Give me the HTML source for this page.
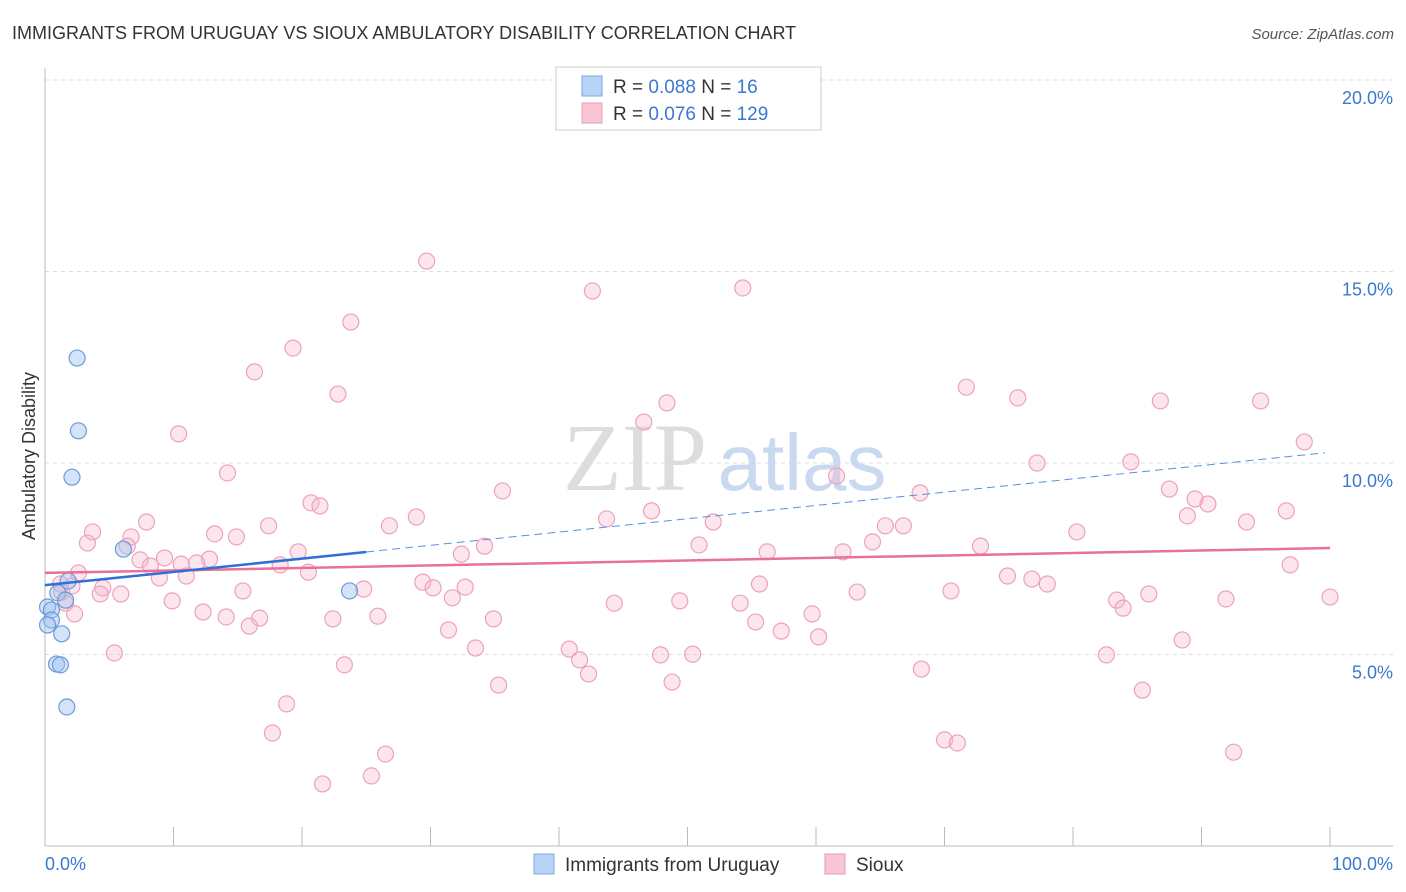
<!DOCTYPE html>
<html><head><meta charset="utf-8"><style>
body{margin:0;background:#fff;font-family:"Liberation Sans",sans-serif;}
svg{display:block}
</style></head><body>
<svg width="1406" height="892" xmlns="http://www.w3.org/2000/svg">
<text x="12" y="39" font-size="18" fill="#333">IMMIGRANTS FROM URUGUAY VS SIOUX AMBULATORY DISABILITY CORRELATION CHART</text>
<text x="1394" y="39" font-size="15" fill="#555" text-anchor="end" font-style="italic">Source: ZipAtlas.com</text>
<g id="grid"></g>
<g>
<text x="635" y="490" font-size="96" fill="#ddd" text-anchor="middle" font-family="Liberation Serif,serif">ZIP</text>
<text x="802" y="490" font-size="80" fill="#c9daf0" text-anchor="middle">atlas</text>
</g>
<text transform="translate(35,456) rotate(-90)" font-size="18" fill="#333" text-anchor="middle">Ambulatory Disability</text>
<g id="points"></g>
<g id="trends"></g>
<g>
<rect x="556" y="67" width="265" height="63" fill="#fff" stroke="#ccc"/>
<rect x="582" y="76" width="20" height="20" fill="#b9d3f5" stroke="#7aa6e0"/>
<rect x="582" y="103" width="20" height="20" fill="#f9c6d6" stroke="#eb9ab6"/>
<text x="613" y="93" font-size="19" fill="#333">R = <tspan fill="#3b78d0">0.088</tspan>   N = <tspan fill="#3b78d0">  16</tspan></text>
<text x="613" y="120" font-size="19" fill="#333">R = <tspan fill="#3b78d0">0.076</tspan>   N = <tspan fill="#3b78d0">129</tspan></text>
</g>
<g>
<rect x="534" y="854" width="20" height="20" fill="#b9d3f5" stroke="#7aa6e0"/>
<text x="565" y="871" font-size="19" fill="#333">Immigrants from Uruguay</text>
<rect x="825" y="854" width="20" height="20" fill="#f9c6d6" stroke="#eb9ab6"/>
<text x="856" y="871" font-size="19" fill="#333">Sioux</text>
</g>
<text x="45" y="870" font-size="18" fill="#3b78d0">0.0%</text>
<text x="1393" y="870" font-size="18" fill="#3b78d0" text-anchor="end">100.0%</text>
</svg>
<script>
const yTicks=[5,10,15,20];
const yTickLabels=["5.0%","10.0%","15.0%","20.0%"];
const xTicks=[0,10,20,30,40,50,60,70,80,90,100];
const blueX=[2.5,2.6,2.1,6.1,1.8,1.0,0.2,0.5,0.5,0.2,1.3,0.9,1.2,1.7,23.7,1.6];
const blueY=[12.74,10.84,9.63,7.75,6.92,6.61,6.24,6.16,5.9,5.77,5.54,4.75,4.73,3.63,6.66,6.42];
const pinkX=[29.7,42.6,54.3,23.8,19.3,16.3,22.8,71.7,75.7,86.8,94.6,48.4,46.6,10.4,98.0,77.2,84.5,14.2,61.6,35.6,68.1,87.5,89.5,90.5,20.7,21.4,88.9,96.6,47.2,28.9,7.9,43.7,52.0,93.5,26.8,17.4,65.4,66.8,3.7,6.7,13.2,14.9,80.3,3.3,6.4,50.9,34.2,19.7,32.4,72.8,56.2,62.1,64.4,7.4,9.3,10.6,12.8,11.8,8.2,2.6,11.0,8.9,20.5,18.3,96.9,74.9,76.8,78.0,29.4,30.2,32.7,55.6,24.8,1.2,1.3,2.1,4.5,4.3,5.9,15.4,31.7,63.2,70.5,85.9,83.4,83.9,91.9,100,9.9,1.6,2.3,44.3,49.4,54.1,12.3,14.1,16.7,25.9,34.9,22.4,59.7,15.9,31.4,55.3,57.3,60.2,88.5,5.4,33.5,40.8,41.6,47.9,50.4,82.6,23.3,42.3,68.2,35.3,48.8,85.4,18.8,17.7,70.0,71.0,92.5,26.5,25.4,21.6];
const pinkY=[15.27,14.49,14.57,13.68,13.0,12.38,11.8,11.98,11.7,11.62,11.62,11.57,11.07,10.76,10.55,10.0,10.03,9.74,9.66,9.27,9.22,9.32,9.06,8.93,8.96,8.88,8.62,8.75,8.75,8.59,8.46,8.54,8.46,8.46,8.36,8.36,8.36,8.36,8.2,8.07,8.15,8.07,8.2,7.91,7.83,7.86,7.83,7.68,7.62,7.83,7.68,7.68,7.94,7.47,7.52,7.36,7.49,7.39,7.31,7.13,7.05,7.0,7.15,7.34,7.34,7.05,6.97,6.84,6.89,6.74,6.76,6.84,6.71,6.84,6.63,6.79,6.74,6.58,6.58,6.66,6.48,6.63,6.66,6.58,6.42,6.21,6.45,6.5,6.4,6.34,6.06,6.34,6.4,6.34,6.11,5.98,5.95,6.0,5.93,5.93,6.06,5.74,5.64,5.85,5.61,5.46,5.38,5.04,5.17,5.14,4.86,4.99,5.01,4.99,4.73,4.49,4.62,4.2,4.28,4.07,3.71,2.95,2.77,2.69,2.45,2.4,1.83,1.62];
const blueTrend=[6.81,10.28]; // value at x=0 and x=100
const pinkTrend=[7.13,7.78];
const blueSolidEnd=25;

const NS="http://www.w3.org/2000/svg";
function xs(v){return 45+v*12.85;}
function ys(v){return 846-v*38.3;}
function mk(t,a,p){const e=document.createElementNS(NS,t);for(const k in a)e.setAttribute(k,a[k]);p.appendChild(e);return e;}
const grid=document.getElementById('grid');
yTicks.forEach((t,i)=>{
  const l=mk('line',{x1:45,x2:1393,y1:ys(t),y2:ys(t),stroke:'#ddd','stroke-dasharray':'4,4'},grid);
  
  
  const tx=mk('text',{x:1393,y:ys(t)+24,'font-size':18,fill:'#3b78d0','text-anchor':'end'},grid);
  tx.textContent=yTickLabels[i];
  
  
});
mk('line',{x1:45,x2:1393,y1:80,y2:80,stroke:'#ddd','stroke-dasharray':'4,4'},grid);
const ax=mk('line',{x1:45,x2:45,y1:68,y2:846,stroke:'#bbb'},grid);


const bx=mk('line',{x1:45,x2:1393,y1:846,y2:846,stroke:'#bbb'},grid);


xTicks.forEach(t=>{
  const l=mk('line',{x1:xs(t),x2:xs(t),y1:827,y2:846,stroke:'#bbb'},grid);
  
  
});
const pts=document.getElementById('points');
pinkX.forEach((x,i)=>{
  const c=mk('circle',{cx:xs(x),cy:ys(pinkY[i]),r:8,fill:'rgba(246,180,204,0.35)',stroke:'#eca2bd','stroke-width':1.2},pts);
  
  
});
blueX.forEach((x,i)=>{
  const c=mk('circle',{cx:xs(x),cy:ys(blueY[i]),r:8,fill:'rgba(160,196,240,0.45)',stroke:'#6d9bd8','stroke-width':1.2},pts);
  
  
});
const tr=document.getElementById('trends');
const bAt=v=>blueTrend[0]+(blueTrend[1]-blueTrend[0])*v/100;
const pl=mk('line',{x1:xs(0),y1:ys(pinkTrend[0]),x2:xs(100),y2:ys(pinkTrend[1]),stroke:'#e8709a','stroke-width':2.5},tr);


const bs=mk('line',{x1:xs(0),y1:ys(bAt(0)),x2:xs(blueSolidEnd),y2:ys(bAt(blueSolidEnd)),stroke:'#2f6fd6','stroke-width':2.5},tr);


const bd=mk('line',{x1:xs(blueSolidEnd),y1:ys(bAt(blueSolidEnd)),x2:xs(99.6),y2:ys(bAt(99.6)),stroke:'#5a8ee0','stroke-width':1,'stroke-dasharray':'8,5'},tr);


</script>
</body></html>
